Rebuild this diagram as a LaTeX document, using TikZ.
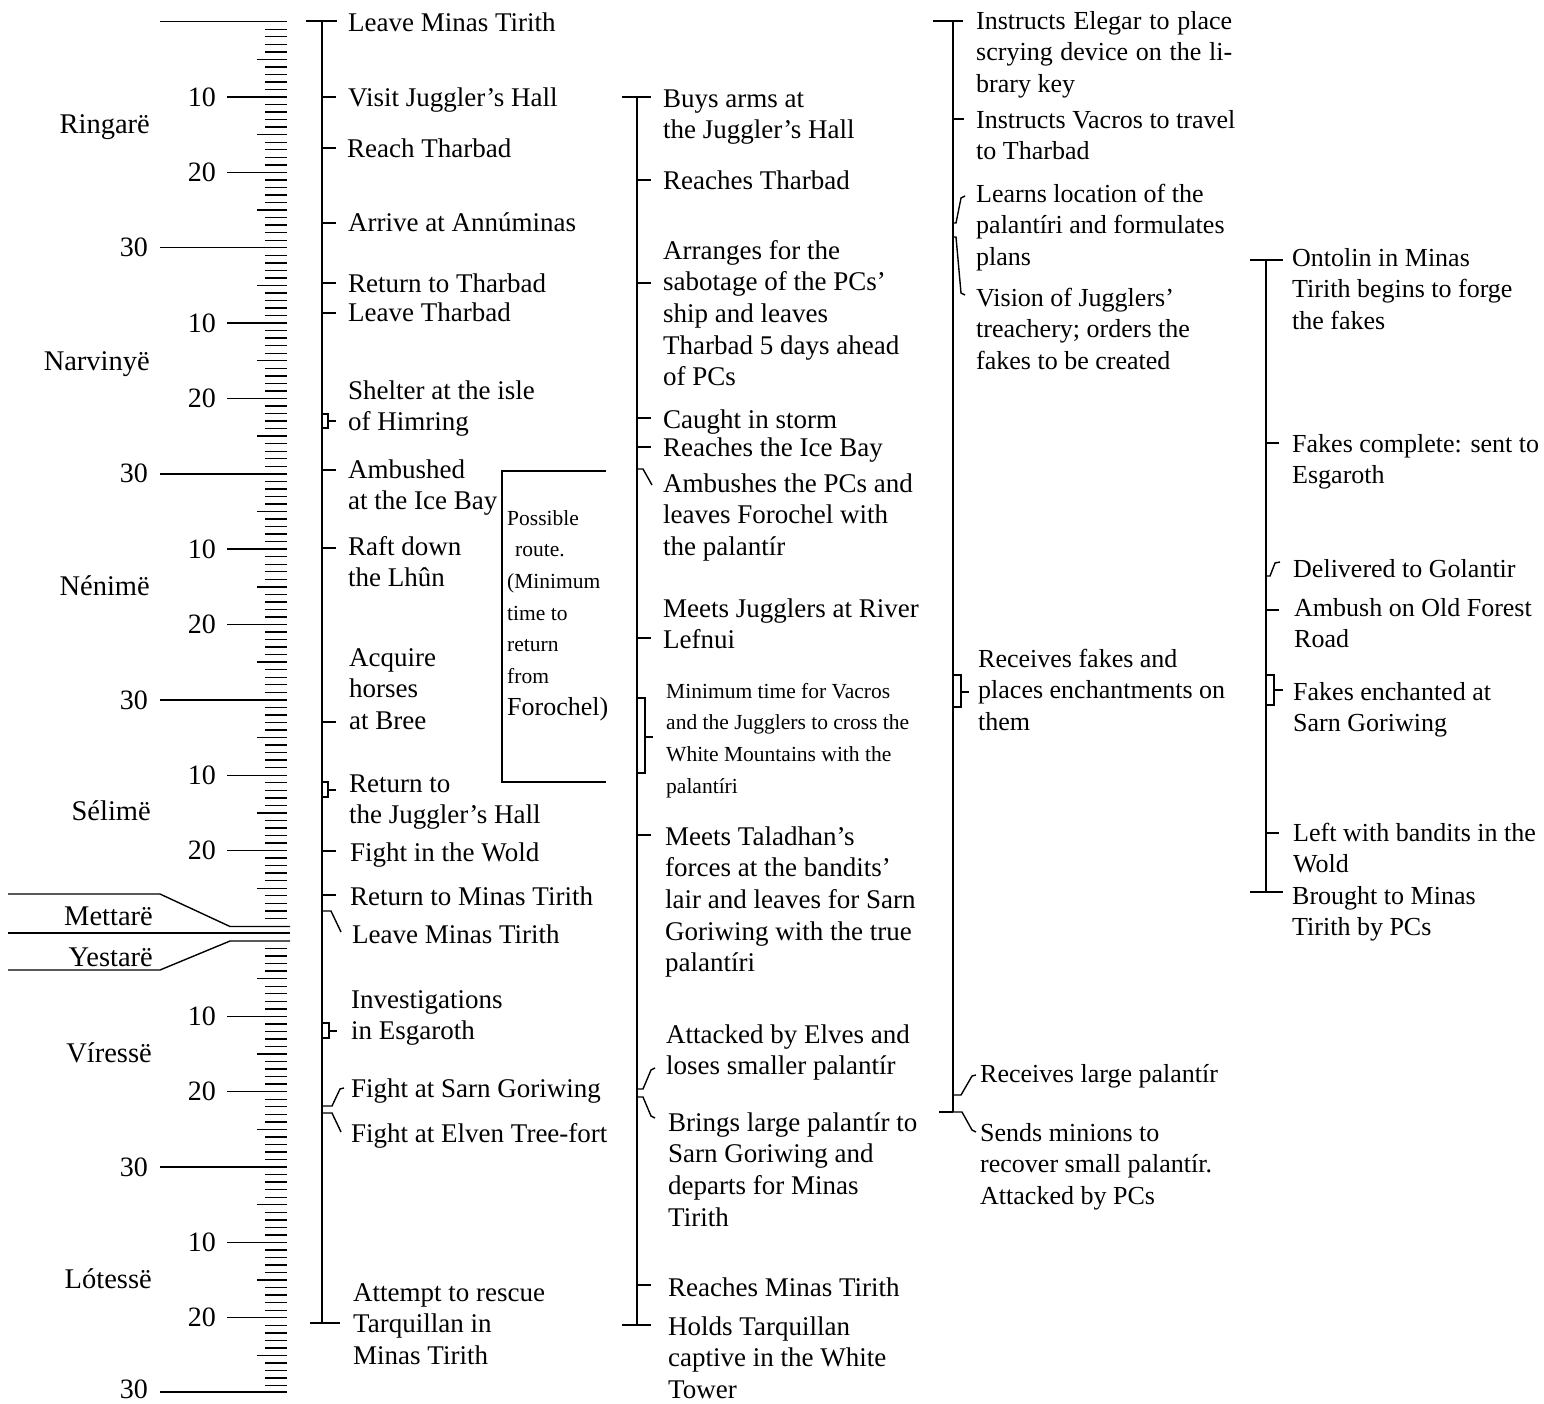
\documentclass[tikz,border=0pt]{standalone}
\usepackage{fontspec}
\setmainfont{Liberation Serif}
\newcommand\ML[1]{\vtop{\baselineskip=31.7pt\lineskiplimit=-1000pt\lineskip=0pt\halign{##\hfil\cr#1\crcr}}}
\tikzset{
 lab/.style={anchor=base west, inner sep=0pt, font=\fontsize{27}{31.7}\selectfont},
 labC/.style={lab, font=\fontsize{26}{31.7}\selectfont},
 labS/.style={lab, font=\fontsize{21.5}{31.7}\selectfont},
 mon/.style={anchor=base east, inner sep=0pt, font=\fontsize{28.5}{32}\selectfont},
 num/.style={anchor=east, inner sep=0pt, font=\fontsize{28}{32}\selectfont},
 ln/.style={line width=1.6pt},
 tk/.style={line width=1.4pt},
}
\begin{document}
\begin{tikzpicture}[x=1pt,y=-1pt]
\fill[white] (0,0) rectangle (1544,1403);
\useasboundingbox (0,0) rectangle (1544,1403);

% ---------------- ruler ----------------
\draw[tk] (160,21.7)--(287,21.7);
\foreach \j in {1,...,119}{
  \pgfmathsetmacro\yy{21.7+\j*7.535}
  \pgfmathtruncatemacro\ma{mod(\j,30)}
  \pgfmathtruncatemacro\mb{mod(\j,10)}
  \pgfmathtruncatemacro\mc{mod(\j,5)}
  \ifnum\ma=0
    \draw[tk] (160,\yy)--(287,\yy);
    \node[num] (ra\j) at (148,\yy) {30};
  \else\ifnum\mb=0
    \draw[tk] (227,\yy)--(287,\yy);
    \node[num] (ra\j) at (216,\yy) {\ma};
  \else\ifnum\mc=0
    \draw[tk] (257,\yy)--(287,\yy);
  \else
    \draw[tk] (265,\yy)--(287,\yy);
  \fi\fi\fi
}
\draw[tk] (8,894)--(160,894)--(230,926.5)--(290,926.5);
\draw[tk] (8,933)--(290,933);
\draw[tk] (8,970)--(160,970)--(230,941)--(290,941);
\foreach \j in {1,...,59}{
  \pgfmathsetmacro\yy{941+\j*7.535}
  \pgfmathtruncatemacro\ma{mod(\j,30)}
  \pgfmathtruncatemacro\mb{mod(\j,10)}
  \pgfmathtruncatemacro\mc{mod(\j,5)}
  \ifnum\ma=0
    \draw[tk] (160,\yy)--(287,\yy);
    \node[num] (rb\j) at (148,\yy) {30};
  \else\ifnum\mb=0
    \draw[tk] (227,\yy)--(287,\yy);
    \node[num] (rb\j) at (216,\yy) {\ma};
  \else\ifnum\mc=0
    \draw[tk] (257,\yy)--(287,\yy);
  \else
    \draw[tk] (265,\yy)--(287,\yy);
  \fi\fi\fi
}
\draw[tk] (160,1392)--(287,1392);
\node[num] (rb60) at (148,1389) {30};

\node[mon] (m1) at (150,133) {Ringarë};
\node[mon] (m2) at (150,370) {Narvinyë};
\node[mon] (m3) at (150,595) {Nénimë};
\node[mon] (m4) at (151,820) {Sélimë};
\node[mon] (m5) at (153,925) {Mettarë};
\node[mon] (m6) at (153,966) {Yestarë};
\node[mon] (m7) at (152,1062) {Víressë};
\node[mon] (m8) at (152,1288) {Lótessë};

% ---------------- column 1 ----------------
\coordinate (A0) at (322,21); \coordinate (A1) at (322,1323);
\draw[ln] (A0)--(A1);
\draw[ln] (306,21)--(337,21);
\draw[ln] (310,1323)--(340,1323);
\foreach \t in {97,148,223,283,313,470,548,722,851,895}{\draw[tk] (322,\t)--(336,\t);}
\draw[tk] (322,414)--(328,414)--(328,428)--(322,428); \draw[tk] (328,421)--(336,421);
\draw[tk] (322,782)--(328,782)--(328,797)--(322,797); \draw[tk] (328,790)--(336,790);
\draw[tk] (322,1023)--(329,1023)--(329,1038)--(322,1038); \draw[tk] (329,1031)--(337,1031);
\draw[tk] (322,911)--(331,911)--(341,932);
\draw[tk] (322,1106)--(332,1106)--(340,1089)--(344,1088);
\draw[tk] (322,1113)--(332,1113)--(341,1132);

\node[lab] (a1) at (348,31) {Leave Minas Tirith};
\node[lab] (a2) at (348,106) {Visit Juggler’s Hall};
\node[lab] (a3) at (347,157) {Reach Tharbad};
\node[lab] (a4) at (348,231) {Arrive at Annúminas};
\node[lab] (a5) at (348,292) {Return to Tharbad};
\node[lab] (a6) at (348,321) {Leave Tharbad};
\node[lab] (a7) at (348,399) {\ML{Shelter at the isle\cr of Himring}};
\node[lab] (a8) at (348,478) {\ML{Ambushed\cr at the Ice Bay}};
\node[lab] (a9) at (348,555) {\ML{Raft down\cr the Lhûn}};
\node[lab] (a10) at (349,666) {\ML{Acquire\cr horses\cr at Bree}};
\node[lab] (a11) at (349,792) {\ML{Return to\cr the Juggler’s Hall}};
\node[lab] (a12) at (350,861) {Fight in the Wold};
\node[lab] (a13) at (350,905) {Return to Minas Tirith};
\node[lab] (a14) at (352,943) {Leave Minas Tirith};
\node[lab] (a15) at (351,1008) {\ML{Investigations\cr in Esgaroth}};
\node[lab] (a16) at (351,1097) {Fight at Sarn Goriwing};
\node[lab] (a17) at (351,1142) {Fight at Elven Tree-fort};
\node[lab] (a18) at (353,1301) {\ML{Attempt to rescue\cr Tarquillan in\cr Minas Tirith}};

% possible route bracket
\draw[tk] (606,471)--(502,471)--(502,782)--(606,782);
\node[labS] (pr) at (507,525) {\ML{Possible\cr\hspace{8pt}route.\cr(Minimum\cr time to\cr return\cr from\cr{\fontsize{26}{31.7}\selectfont Forochel)}}};

% ---------------- column 2 ----------------
\coordinate (B0) at (637,97); \coordinate (B1) at (637,1325);
\draw[ln] (B0)--(B1);
\draw[ln] (622,97)--(651,97);
\draw[ln] (622,1325)--(651,1325);
\foreach \t in {180,283,418,447,638,835,1285}{\draw[tk] (637,\t)--(651,\t);}
\draw[tk] (637,469)--(643,469)--(652,485);
\draw[tk] (637,698)--(645,698)--(645,773)--(637,773); \draw[tk] (645,737)--(653,737);
\draw[tk] (637,1089)--(643,1089)--(651,1070)--(655,1068);
\draw[tk] (637,1097)--(643,1097)--(651,1116)--(655,1118);

\node[lab] (b1) at (663,107) {\ML{Buys arms at\cr the Juggler’s Hall}};
\node[lab] (b2) at (663,189) {Reaches Tharbad};
\node[lab] (b3) at (663,259) {\ML{Arranges for the\cr sabotage of the PCs’\cr ship and leaves\cr Tharbad 5 days ahead\cr of PCs}};
\node[lab] (b4) at (663,428) {Caught in storm};
\node[lab] (b5) at (663,456) {Reaches the Ice Bay};
\node[lab] (b6) at (663,492) {\ML{Ambushes the PCs and\cr leaves Forochel with\cr the palantír}};
\node[lab] (b7) at (663,617) {\ML{Meets Jugglers at River\cr Lefnui}};
\node[labS] (b8) at (666,698) {\ML{Minimum time for Vacros\cr and the Jugglers to cross the\cr White Mountains with the\cr palantíri}};
\node[lab] (b9) at (665,845) {\ML{Meets Taladhan’s\cr forces at the bandits’\cr lair and leaves for Sarn\cr Goriwing with the true\cr palantíri}};
\node[lab] (b10) at (666,1043) {\ML{Attacked by Elves and\cr loses smaller palantír}};
\node[lab] (b11) at (668,1131) {\ML{Brings large palantír to\cr Sarn Goriwing and\cr departs for Minas\cr Tirith}};
\node[lab] (b12) at (668,1296) {Reaches Minas Tirith};
\node[lab] (b13) at (668,1335) {\ML{Holds Tarquillan\cr captive in the White\cr Tower}};

% ---------------- column 3 ----------------
\coordinate (C0) at (953,21); \coordinate (C1) at (953,1112);
\draw[ln] (C0)--(C1);
\draw[ln] (933,21)--(963,21);
\draw[ln] (939,1112)--(953,1112);
\draw[tk] (953,119)--(964,119);
\draw[tk] (953,223)--(956,223)--(961,198)--(965,196);
\draw[tk] (953,237)--(956,237)--(961,293)--(965,295);
\draw[tk] (953,675)--(961,675)--(961,707)--(953,707); \draw[tk] (961,692)--(969,692);
\draw[tk] (953,1095)--(961,1095)--(972,1076)--(976,1075);
\draw[tk] (953,1112)--(962,1112)--(972,1130)--(976,1132);

\node[labC] (c1) at (976,29) {\ML{\hbox to 256pt{Instructs\hfill Elegar\hfill to\hfill place}\cr\hbox to 256pt{scrying\hfill device\hfill on\hfill the\hfill li-}\cr brary key}};
\node[labC] (c2) at (976,128) {\ML{Instructs Vacros to travel\cr to Tharbad}};
\node[labC] (c3) at (976,202) {\ML{Learns location of the\cr palantíri and formulates\cr plans}};
\node[labC] (c4) at (976,306) {\ML{Vision of Jugglers’\cr treachery; orders the\cr fakes to be created}};
\node[labC] (c5) at (978,667) {\ML{Receives fakes and\cr places enchantments on\cr them}};
\node[labC] (c6) at (980,1082) {Receives large palantír};
\node[labC] (c7) at (980,1141) {\ML{Sends minions to\cr recover small palantír.\cr Attacked by PCs}};

% ---------------- column 4 ----------------
\coordinate (D0) at (1266,260); \coordinate (D1) at (1266,892);
\draw[ln] (D0)--(D1);
\draw[ln] (1250,260)--(1283,260);
\draw[ln] (1250,892)--(1283,892);
\foreach \t in {443,610,833}{\draw[tk] (1266,\t)--(1279,\t);}
\draw[tk] (1266,576)--(1270,576)--(1275,563)--(1280,562);
\draw[tk] (1266,675)--(1274,675)--(1274,705)--(1266,705); \draw[tk] (1274,690)--(1283,690);

\node[labC] (d1) at (1292,266) {\ML{Ontolin in Minas\cr Tirith begins to forge\cr the fakes}};
\node[labC] (d2) at (1292,452) {\ML{Fakes complete: sent to\cr Esgaroth}};
\node[labC] (d3) at (1293,577) {Delivered to Golantir};
\node[labC] (d4) at (1294,616) {\ML{Ambush on Old Forest\cr Road}};
\node[labC] (d5) at (1293,700) {\ML{Fakes enchanted at\cr Sarn Goriwing}};
\node[labC] (d6) at (1293,841) {\ML{Left with bandits in the\cr Wold}};
\node[labC] (d7) at (1292,904) {\ML{Brought to Minas\cr Tirith by PCs}};
\end{tikzpicture}
\end{document}
